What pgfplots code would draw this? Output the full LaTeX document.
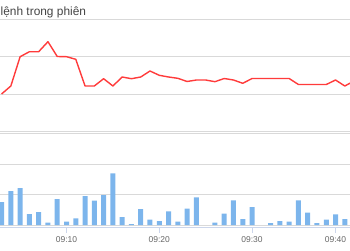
\documentclass[border=0pt]{standalone}
\usepackage{fontspec}
\setmainfont{Liberation Sans}
\usepackage{pgfplots}
\pgfplotsset{compat=1.18}
\definecolor{gridc}{HTML}{D9D9D9}
\definecolor{linec}{HTML}{FF3B3B}
\definecolor{barc}{HTML}{7CB5EC}
\definecolor{axc}{HTML}{CCD6EB}
\definecolor{labc}{HTML}{666666}
\definecolor{titc}{HTML}{444444}
\begin{document}
\begin{tikzpicture}
\path[use as bounding box] (0pt,0pt) rectangle (350pt,250pt);
\node[anchor=base west, inner sep=0pt, text=titc, font=\fontsize{11.9}{14}\selectfont] at (0.5pt,235pt) {lệnh trong phiên};
\begin{axis}[
  at={(0pt,118.5pt)}, anchor=south west,
  scale only axis, width=350pt, height=112.5pt,
  xmin=-0.169, xmax=37.56, ymin=0, ymax=112.5,
  axis line style={draw=none},
  xtick=\empty, ytick={0,37.5,75,112.5}, yticklabels={},
  ymajorgrids, grid style={gridc, line width=1pt},
  major tick length=0pt,
]
\addplot[linec, line width=1.4pt, line join=round, mark=none] coordinates {
(0,37.5)(1,45.5)(2,74.8)(3,79.8)(4,79.8)(5,89.8)(6,75)(7,74.8)(8,72.2)(9,45.5)
(10,45.5)(11,52.8)(12,45.5)(13,54.5)(14,52.8)(15,54.5)(16,60.5)(17,56.2)(18,54.5)(19,53.2)
(20,50)(21,51.5)(22,51.5)(23,49.8)(24,53)(25,51.5)(26,48.2)(27,53)(28,53)(29,53)
(30,53)(31,53)(32,47)(33,47)(34,47)(35,47)(36,51.5)(37,45.5)(38,50.5)};
\end{axis}
\begin{axis}[
  at={(0pt,22.3pt)}, anchor=south west,
  scale only axis, width=350pt, height=93.7pt,
  xmin=-0.169, xmax=37.56, ymin=-2.7, ymax=91,
  axis line style={draw=none},
  ytick={0,30.33,60.67,91}, yticklabels={}, ytick style={draw=none},
  ymajorgrids, grid style={gridc, line width=1pt},
  xtick={7,17,27,36}, xticklabels={09:10,09:20,09:30,09:40},
  xtick pos=bottom, tick align=outside, major tick length=5pt,
  xtick style={axc, line width=1pt},
  xticklabel style={font=\fontsize{8.5}{10}\selectfont, text=labc},
  /pgf/number format/assume math mode=true,
  ybar, bar width=5pt,
]
\addplot[fill=barc, draw=none] coordinates {
(0,23)(1,34)(2,37)(3,11)(4,13)(5,2.3)(6,26)(7,3.3)(8,6.7)(9,29)(10,24.3)(11,30)(12,51.7)
(13,8)(14,1)(15,16)(16,5.3)(17,4)(18,13.7)(19,3.3)(20,16.3)(21,27.7)(23,2.3)(24,11.3)
(25,24.7)(26,6)(27,18)(29,2)(30,4)(31,3.3)(32,24.7)(33,12.3)(34,2)(35,5.3)(36,10.7)(37,6)};
\draw[axc, line width=1pt] (rel axis cs:0,0) -- (rel axis cs:1,0);
\end{axis}
\end{tikzpicture}
\end{document}
